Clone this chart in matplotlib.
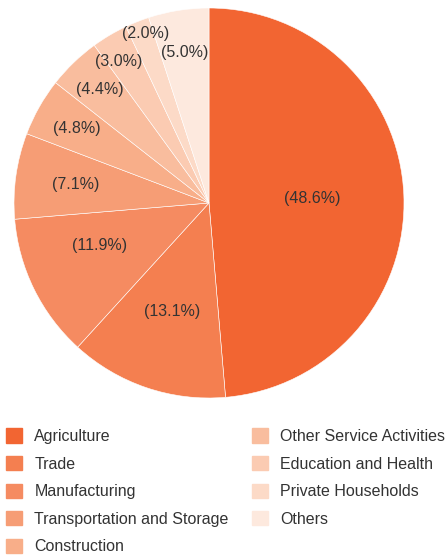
import numpy as np
import matplotlib.pyplot as plt

sectors = ['Agriculture', 'Trade', 'Manufacturing', 'Transportation and Storage',
           'Construction', 'Other Service Activities', 'Education and Health',
           'Private Households', 'Others']
shares = [48.6, 13.1, 11.9, 7.1, 4.8, 4.4, 3.0, 2.0, 5.0]
colors = ['#F26532', '#F47F50', '#F58B61', '#F69D75', '#F8AE89',
          '#F9BD9E', '#FBCBB2', '#FCDAC7', '#FDE9DE']

# label placement (radius fraction, angle nudge in degrees)
lab_r = [0.53, 0.59, 0.60, 0.69, 0.78, 0.81, 0.86, 0.93, 0.78]
lab_nudge = [0, 0, -5, 0, 0, 0, 2, -1, 0]

plt.rcParams['font.family'] = ['Liberation Sans', 'DejaVu Sans']

fig = plt.figure(figsize=(4.46, 5.58), dpi=100)
ax = fig.add_axes([14 / 446, (558 - 398) / 558, 390 / 446, 390 / 558])

wedges, _ = ax.pie(shares, colors=colors, startangle=90, counterclock=False,
                   wedgeprops=dict(edgecolor='white', linewidth=0.4))
ax.set_xlim(-1, 1)
ax.set_ylim(-1, 1)
ax.set_aspect('equal')
ax.axis('off')

for w, v, r, d in zip(wedges, shares, lab_r, lab_nudge):
    a = np.deg2rad((w.theta1 + w.theta2) / 2 + d)
    ax.text(r * np.cos(a), r * np.sin(a), f'({v:.1f}%)', ha='center', va='center',
            fontsize=11.5, color='#333333')

handles = [plt.Rectangle((0, 0), 1, 1, color=c) for c in colors]
fig.legend(handles, sectors, loc='upper left', bbox_to_anchor=(0.0, 1 - 422 / 558),
           ncol=2, frameon=False, fontsize=11.5, handlelength=1.0, handleheight=1.0,
           handletextpad=0.75, labelspacing=0.75, columnspacing=1.45, borderaxespad=0,
           labelcolor='#333333')

fig.savefig('out.png', dpi=100)
